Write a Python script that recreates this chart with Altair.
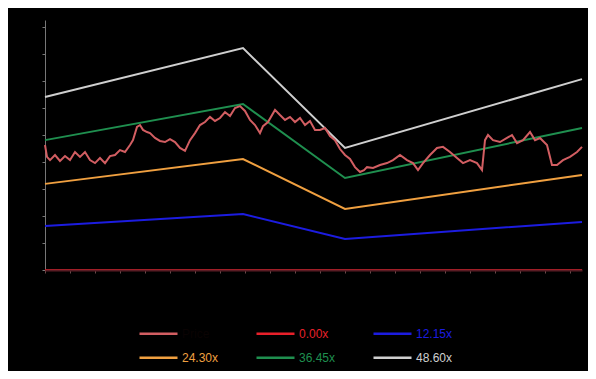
import altair as alt
import pandas as pd

# Price series (x = period index, y = price)
price_t = [0, 0.8, 2, 4, 6, 8, 10, 12, 14, 16, 18, 20, 22, 24, 26, 28, 30, 32, 34, 35.2,
           36.8, 38, 39.2, 40.8, 42, 44, 46, 48, 50, 52, 54, 56, 58, 60, 62, 64, 66, 68, 70, 72,
           74, 76, 78, 80, 82, 84, 86, 87.2, 89.2, 92, 94, 96, 98, 100, 102, 104, 106, 108, 110, 112,
           114, 116, 118, 120, 122, 124, 126, 127.6, 128.8, 131.2, 134, 136.8, 139.2, 142, 144.8, 147.2, 149.2, 151.2, 154, 156.8,
           159.2, 162, 164.8, 167.2, 170, 172.8, 174.8, 176, 177.2, 179.2, 182, 184.8, 186.8, 188.8, 191.2, 194, 196, 198, 200.8, 202.8,
           204.8, 207.2, 210, 212.8, 214.8]
price_v = [46.3, 41.9, 40.7, 42.6, 40.4, 42.2, 40.7, 43.7, 41.9, 43.7, 40.7, 39.6, 41.5, 39.6, 42.2, 42.6, 44.4, 43.7, 46.3, 48.1,
           53.0, 53.7, 51.9, 51.1, 50.7, 48.9, 47.8, 47.4, 48.5, 47.4, 45.2, 44.1, 48.1, 50.7, 53.7, 54.8, 56.7, 55.2, 56.3, 58.5,
           57.0, 60.0, 60.7, 58.9, 55.6, 53.7, 50.7, 53.3, 54.8, 59.3, 57.4, 55.6, 56.7, 54.8, 56.3, 53.7, 55.2, 51.9, 51.9, 52.6,
           49.6, 48.1, 44.8, 42.6, 41.1, 38.1, 36.3, 37.0, 38.1, 37.8, 38.9, 39.6, 40.7, 42.6, 40.7, 39.6, 37.0, 39.6, 42.6, 45.2,
           45.6, 43.7, 41.5, 39.6, 40.7, 39.6, 37.0, 48.1, 50.0, 48.1, 47.4, 48.9, 50.0, 47.0, 48.1, 51.1, 48.1, 48.9, 46.3, 38.9,
           38.9, 40.7, 41.9, 43.7, 45.6]

# PE band nodes
band_t = [0, 79.2, 120, 214.8]
band_0 = [0, 0, 0, 0]
band_1215 = [16.3, 20.7, 11.5, 17.8]
band_2430 = [31.9, 41.1, 22.6, 35.2]
band_3645 = [48.1, 61.5, 34.1, 52.6]
band_4860 = [64.1, 82.2, 45.2, 70.7]

names_a = ["Price", "0.00x", "12.15x"]
colors_a = ["#d25e62", "#e8202a", "#1c1ce0"]
label_colors_a = ["#0a0303", "#e8202a", "#1c1ce0"]
names_b = ["24.30x", "36.45x", "48.60x"]
colors_b = ["#f0a040", "#1f8f4f", "#cfcfcf"]

x_ticks = list(range(0, 211, 10))


def color_expr(names, cols):
    e = "'%s'" % cols[-1]
    for n, c in zip(reversed(names[:-1]), reversed(cols[:-1])):
        e = "datum.value === '%s' ? '%s' : (%s)" % (n, c, e)
    return e


rows_a = []
for t, v in zip(band_t, band_0):
    rows_a.append({"t": t, "v": v, "s": "0.00x"})
for t, v in zip(band_t, band_1215):
    rows_a.append({"t": t, "v": v, "s": "12.15x"})
for t, v in zip(price_t, price_v):
    rows_a.append({"t": t, "v": v, "s": "Price"})
df_a = pd.DataFrame(rows_a)

rows_b = []
for name, vals in zip(names_b, [band_2430, band_3645, band_4860]):
    for t, v in zip(band_t, vals):
        rows_b.append({"t": t, "v": v, "s": name})
df_b = pd.DataFrame(rows_b)

xenc = alt.X("t:Q", scale=alt.Scale(domain=[0, 214.8], nice=False, zero=False),
             axis=alt.Axis(values=x_ticks, labels=False, title=None, grid=False,
                           domainColor="#5a1c24", domainWidth=2, tickColor="#6a4a4a",
                           tickSize=3, zindex=1))
yenc = alt.Y("v:Q", scale=alt.Scale(domain=[0, 92.6], nice=False),
             axis=alt.Axis(values=list(range(0, 91, 10)), labels=False, title=None, grid=False,
                           domainColor="#777777", tickColor="#777777", tickSize=3))

legend_common = dict(orient="none", direction="horizontal", columns=3, title=None,
                     symbolType="stroke", symbolSize=1444, symbolStrokeWidth=2.5,
                     labelFontSize=12, labelFont="Liberation Sans", columnPadding=32,
                     gridAlign="all", labelOffset=3)

chart_b = alt.Chart(df_b).mark_line(strokeWidth=2).encode(
    x=xenc, y=yenc,
    stroke=alt.Stroke("s:N", scale=alt.Scale(domain=names_b, range=colors_b),
                      legend=alt.Legend(legendX=93, legendY=317,
                                        labelColor=alt.ExprRef(color_expr(names_b, colors_b)),
                                        **legend_common)),
    detail="s:N",
)

chart_a = alt.Chart(df_a).mark_line(strokeWidth=2).encode(
    x=xenc, y=yenc,
    color=alt.Color("s:N", scale=alt.Scale(domain=names_a, range=colors_a),
                    legend=alt.Legend(legendX=93, legendY=293,
                                      labelColor=alt.ExprRef(color_expr(names_a, label_colors_a)),
                                      **legend_common)),
    order=alt.Order("t:Q"),
)

chart = alt.layer(chart_b, chart_a).properties(
    width=537, height=250,
    autosize=alt.AutoSizeParams(type="none"),
    padding={"left": 37, "top": 12, "right": 6, "bottom": 101},
    background="#000000",
).configure_view(stroke=None)

chart.save("out.html", embed_options={"renderer": "svg", "actions": False})
